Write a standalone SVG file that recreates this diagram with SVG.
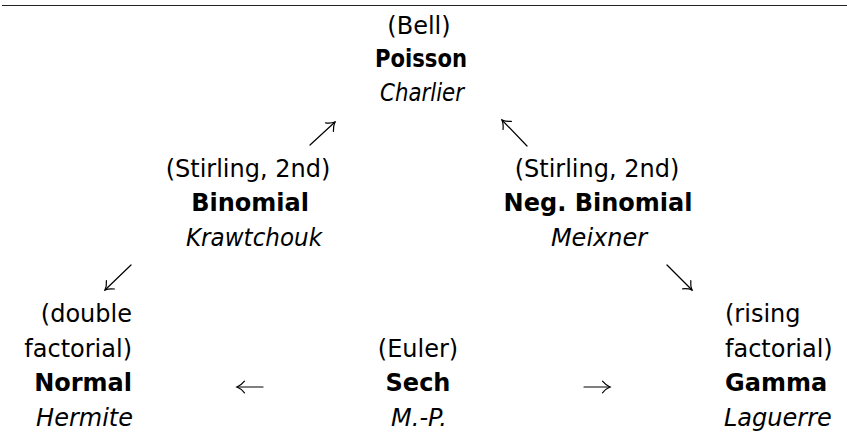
<svg xmlns="http://www.w3.org/2000/svg" width="847" height="439" viewBox="0 0 847 439">
  <defs>
    <style>
      text { font-family: "DejaVu Sans", "Liberation Sans", sans-serif; font-size: 24px; fill: #000; }
      .name { font-weight: bold; }
      .poly { font-style: italic; }
      .mid { text-anchor: middle; }
      .end { text-anchor: end; }
      .start { text-anchor: start; }
      .rule { stroke: #222; stroke-width: 1.2; }
      .arrow { fill: none; stroke: #000; stroke-width: 1.2; stroke-linecap: round; marker-end: url(#head); }
    </style>
    <!-- curved open arrowhead, TeX style -->
    <marker id="head" viewBox="-9 -7 11 14" markerWidth="11" markerHeight="14" refX="0" refY="0" orient="auto" markerUnits="userSpaceOnUse" overflow="visible">
      <path d="M-7.5,-5.8 C-4.5,-2.2 -1.8,-0.7 0,0 C-1.8,0.7 -4.5,2.2 -7.5,5.8" fill="none" stroke="#000" stroke-width="1.2" stroke-linecap="round"/>
    </marker>
  </defs>

  <!-- top rule of the table -->
  <line class="rule" x1="2" y1="5.5" x2="847" y2="5.5"/>

  <g id="poisson">
    <text class="mid" x="419" y="34">(Bell)</text>
    <text class="mid name" x="421" y="67" textLength="92" lengthAdjust="spacingAndGlyphs">Poisson</text>
    <text class="mid poly" x="422" y="101" textLength="84" lengthAdjust="spacingAndGlyphs">Charlier</text>
  </g>

  <g id="binomial">
    <text class="mid" x="248" y="177">(Stirling, 2nd)</text>
    <text class="mid name" x="250" y="211">Binomial</text>
    <text class="mid poly" x="254" y="246" textLength="136" lengthAdjust="spacingAndGlyphs">Krawtchouk</text>
  </g>

  <g id="neg-binomial">
    <text class="mid" x="597" y="177">(Stirling, 2nd)</text>
    <text class="mid name" x="598" y="211">Neg. Binomial</text>
    <text class="mid poly" x="599" y="246">Meixner</text>
  </g>

  <g id="normal">
    <text class="end" x="132" y="322">(double</text>
    <text class="end" x="132" y="357">factorial)</text>
    <text class="end name" x="132" y="391">Normal</text>
    <text class="end poly" x="133" y="426">Hermite</text>
  </g>

  <g id="sech">
    <text class="mid" x="418" y="357">(Euler)</text>
    <text class="mid name" x="418" y="391">Sech</text>
    <text class="mid poly" x="419" y="426">M.-P.</text>
  </g>

  <g id="gamma">
    <text class="start" x="725" y="322">(rising</text>
    <text class="start" x="725" y="357">factorial)</text>
    <text class="start name" x="725" y="391">Gamma</text>
    <text class="start poly" x="724" y="426">Laguerre</text>
  </g>

  <g id="connectors">
    <path class="arrow" d="M310,145 L335,122"/>
    <path class="arrow" d="M527,146 L502,120"/>
    <path class="arrow" d="M131,265 L105,290"/>
    <path class="arrow" d="M667,265 L692,290"/>
    <path class="arrow" d="M263,387 L237,387"/>
    <path class="arrow" d="M584,387 L610,387"/>
  </g>
</svg>
